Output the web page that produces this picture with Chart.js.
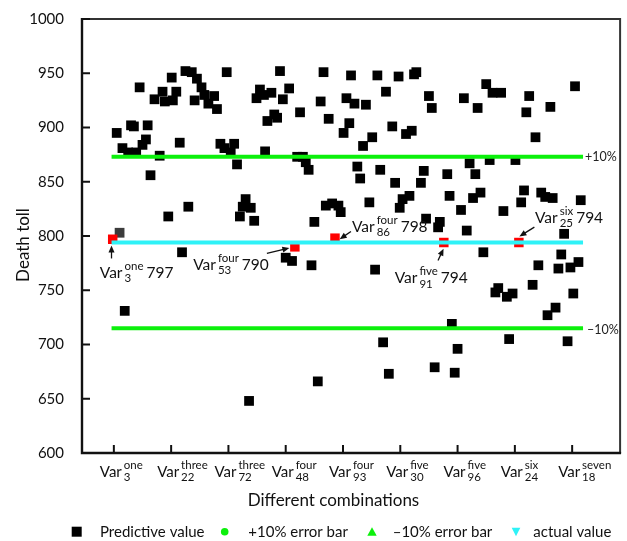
<!DOCTYPE html>
<html><head><meta charset="utf-8">
<script src="https://cdn.jsdelivr.net/npm/chart.js@4"></script>
<style>html,body{margin:0;padding:0;background:#fff;}canvas{display:block;}</style>
</head><body>
<canvas id="c" width="627" height="541"></canvas>
<script>
// ---------- DATA ----------
const tickValues = [0, 10, 20, 30, 40, 50, 60, 70, 80];
const tickBase = 'Var';
const tickSubs = ['3', '22', '72', '48', '93', '30', '96', '24', '18'];
const tickSups = ['one', 'three', 'three', 'four', 'four', 'five', 'five', 'six', 'seven'];

const predX = [10.1,12.5,13.6,14.5,19.7,4.5,8.5,10.9,7.1,8.9,10.3,14.1,15.3,15.8,17.5,16.5,18.0,25.5,24.9,26.2,26.8,3.0,3.5,5.9,0.5,5.6,5.0,11.5,1.5,2.5,3.9,8.0,18.6,19.3,21.0,20.4,26.4,21.5,6.4,13.0,9.5,23.0,22.5,23.9,22.0,24.5,11.9,
 29.0,36.6,41.4,46.0,49.7,52.8,52.4,30.6,27.5,29.5,36.1,40.6,42.0,44.0,47.5,55.0,55.5,32.5,28.0,28.5,37.5,41.1,40.1,45.1,43.5,48.6,52.0,51.0,32.0,33.0,33.5,34.0,42.5,43.0,46.5,49.1,54.1,53.6,58.2,51.6,50.4,49.9,44.6,37.0,38.1,39.2,39.6,35.0,54.5,56.9,56.6,58.6,
 30.0,31.1,34.5,45.6,47.0,56.0,48.0,35.6,
 65.0,66.1,67.6,61.1,63.5,72.5,72.0,76.2,80.5,73.6,62.1,65.6,70.1,63.1,62.7,64.0,60.6,68.0,71.6,71.1,74.6,75.3,76.6,81.5,61.6,78.6,64.5,78.1,
 74.1,77.6,79.7,81.1,73.1,67.1,66.6,68.6,69.6,80.2,77.1,75.7,59.0,69.0,79.2,60.0,59.5,
 1.9,23.6];
const predY = [946,952,951,945,951,937,933,933,926,924,925,925,937,930,929,922,917,935,927,930,906,902,901,902,895,889,884,886,881,877,877,874,885,881,885,877,878,866,856,827,818,834,827,826,818,814,785,
 952,951,948,948,947,951,949,936,932,926,924,927,922,921,933,929,918,914,912,909,908,904,895,891,883,901,897,894,873,873,868,861,864,853,861,849,860,849,857,837,834,826,831,828,830,828,822,813,816,813,808,837,
 780,777,773,769,702,679,673,666,
 940,932,932,927,918,929,914,919,938,891,867,870,870,857,835,840,824,823,842,831,840,836,835,833,805,802,785,783,
 773,770,771,776,755,752,748,744,747,747,734,727,719,705,703,696,674,
 731,648];
const shadedX = [1.0];
const shadedY = [803];

const hiX = [-0.2, 31.6, 38.6, 57.6, 70.7];
const hiY = [797, 790, 798, 794, 794];
const hiSubs = ['3', '53', '86', '91', '25'];
const hiSups = ['one', 'four', 'four', 'five', 'six'];

const actualValue = 794;
const plusTen = 873;
const minusTen = 715;
const lineX = [-0.4, 81.9];

const legendLabels = ['Predictive value', '+10% error bar', '\u201310% error bar', 'actual value'];
const plusLabel = '+10%';
const minusLabel = '\u201310%';
const xTitle = 'Different combinations';
const yTitle = 'Death toll';

// ---------- STYLE / LAYOUT ----------
const F = 'Lato, "Open Sans", sans-serif';
const GREEN = '#0cf00c';
const CYAN = '#2ef2f7';
const TXT = '#111';
// annotation offsets relative to highlighted point pixel: arrow tail, arrow head, label left/baseline
const annLayout = [
  {tx:-1.2, ty:19.2, hx:-1.2, hy:6.2, lx:-12.9, ly:38.7},
  {tx:-28, ty:6.6, hx:-5.5, hy:1.1, lx:-101.7, ly:23.1},
  {tx:16, ty:-6.7, hx:4.7, hy:1.0, lx:17, ly:-6.2},
  {tx:-5.8, ty:17.9, hx:-0.3, hy:6.2, lx:-49.1, ly:40.9},
  {tx:15.5, ty:-15.4, hx:0.5, hy:-6.1, lx:16.1, ly:-19.6}
];

function rich(ctx, x, y, base, sub, sup, tail, bs, ss) {
  ctx.textAlign = 'left'; ctx.textBaseline = 'alphabetic';
  ctx.font = bs + 'px ' + F;
  ctx.fillText(base, x, y);
  const cx = x + ctx.measureText(base).width + 2;
  ctx.font = ss + 'px ' + F;
  ctx.fillText(sup, cx, y - 8);
  ctx.fillText(sub, cx, y + 4.5);
  const w = Math.max(ctx.measureText(sup).width, ctx.measureText(sub).width);
  if (tail) { ctx.font = bs + 'px ' + F; ctx.fillText(tail, cx + w + 3, y); }
}
function arrow(ctx, x1, y1, x2, y2) {
  const a = Math.atan2(y2 - y1, x2 - x1), L = 7, W = 3;
  const c = Math.cos(a), s = Math.sin(a);
  ctx.beginPath(); ctx.moveTo(x1, y1); ctx.lineTo(x2 - L * c * 0.7, y2 - L * s * 0.7);
  ctx.lineWidth = 1.3; ctx.strokeStyle = '#111'; ctx.stroke();
  ctx.beginPath(); ctx.moveTo(x2, y2);
  ctx.lineTo(x2 - L * c + W * s, y2 - L * s - W * c);
  ctx.lineTo(x2 - L * c - W * s, y2 - L * s + W * c);
  ctx.closePath(); ctx.fillStyle = '#111'; ctx.fill();
}

const decor = {
  id: 'decor',
  afterDraw(chart) {
    const ctx = chart.ctx, a = chart.chartArea;
    const xs = chart.scales.x, ys = chart.scales.y;
    ctx.save();
    // frame
    ctx.strokeStyle = '#333'; ctx.lineWidth = 2;
    ctx.beginPath(); ctx.moveTo(a.left, a.top); ctx.lineTo(a.right, a.top); ctx.lineTo(a.right, a.bottom); ctx.stroke();
    ctx.strokeStyle = '#111'; ctx.lineWidth = 2.4;
    ctx.beginPath(); ctx.moveTo(a.left, a.top - 1); ctx.lineTo(a.left, a.bottom); ctx.lineTo(a.right + 1, a.bottom); ctx.stroke();
    // inward tick marks
    ctx.lineWidth = 2; ctx.strokeStyle = '#111';
    ys.ticks.forEach(t => { const p = ys.getPixelForValue(t.value); ctx.beginPath(); ctx.moveTo(a.left, p); ctx.lineTo(a.left + 8, p); ctx.stroke(); });
    tickValues.forEach(v => { const p = xs.getPixelForValue(v); ctx.beginPath(); ctx.moveTo(p, a.bottom); ctx.lineTo(p, a.bottom - 8); ctx.stroke(); });
    // x tick labels
    ctx.fillStyle = TXT;
    tickValues.forEach((v, i) => { const p = xs.getPixelForValue(v); rich(ctx, p - 14, 476.7, tickBase, tickSubs[i], tickSups[i], null, 15, 11.5); });
    // axis titles
    ctx.font = '17px ' + F; ctx.textAlign = 'center'; ctx.textBaseline = 'alphabetic';
    ctx.fillText(xTitle, 333.5, 506);
    ctx.save(); ctx.translate(28.5, 245); ctx.rotate(-Math.PI / 2); ctx.fillText(yTitle, 0, 0); ctx.restore();
    // +-10% labels
    ctx.font = '12.5px ' + F; ctx.textAlign = 'left'; ctx.textBaseline = 'middle'; ctx.fillStyle = '#222';
    const xe = xs.getPixelForValue(lineX[1]);
    ctx.fillText(plusLabel, xe + 2, ys.getPixelForValue(plusTen) + 0.5);
    ctx.fillText(minusLabel, xe + 4, ys.getPixelForValue(minusTen) + 2);
    // annotations
    hiX.forEach((x, i) => {
      const px = xs.getPixelForValue(x), py = ys.getPixelForValue(hiY[i]), L = annLayout[i];
      arrow(ctx, px + L.tx, py + L.ty, px + L.hx, py + L.hy);
      ctx.fillStyle = TXT;
      rich(ctx, px + L.lx, py + L.ly, tickBase, hiSubs[i], hiSups[i], String(hiY[i]), 15.5, 11.5);
    });
    // legend
    const ly = 531.7;
    ctx.fillStyle = '#000'; ctx.fillRect(71.7, ly - 5, 10, 10);
    ctx.fillStyle = GREEN; ctx.beginPath(); ctx.arc(224.7, ly, 3.8, 0, Math.PI * 2); ctx.fill();
    ctx.beginPath(); ctx.moveTo(372, ly - 4.5); ctx.lineTo(376.7, ly + 4); ctx.lineTo(367.3, ly + 4); ctx.closePath(); ctx.fill();
    ctx.fillStyle = CYAN; ctx.beginPath(); ctx.moveTo(516, ly + 4.5); ctx.lineTo(520.3, ly - 4); ctx.lineTo(511.7, ly - 4); ctx.closePath(); ctx.fill();
    ctx.fillStyle = TXT; ctx.font = '15px ' + F; ctx.textAlign = 'left'; ctx.textBaseline = 'alphabetic';
    [100, 248.3, 392.7, 533.3].forEach((x, i) => ctx.fillText(legendLabels[i], x, 536.5));
    ctx.restore();
  }
};

const pts = (xs, ys) => xs.map((x, i) => ({x, y: ys[i]}));
const flat = v => lineX.map(x => ({x, y: v}));
new Chart(document.getElementById('c'), {
  type: 'scatter',
  data: { datasets: [
    {label: legendLabels[1], data: flat(plusTen), showLine: true, borderColor: GREEN, borderWidth: 4, pointRadius: 0, order: 1},
    {label: legendLabels[2], data: flat(minusTen), showLine: true, borderColor: GREEN, borderWidth: 4, pointRadius: 0, order: 1},
    {label: legendLabels[3], data: flat(actualValue), showLine: true, borderColor: CYAN, borderWidth: 4, pointRadius: 0, order: 1},
    {label: 'highlight', data: pts(hiX, hiY), pointStyle: 'rect', pointRadius: 6.7, backgroundColor: '#ff0000', borderWidth: 0, order: 2},
    {label: legendLabels[0], data: pts(predX, predY), pointStyle: 'rect', pointRadius: 6.9, backgroundColor: '#000', borderWidth: 0, order: 3},
    {label: 'shaded', data: pts(shadedX, shadedY), pointStyle: 'rect', pointRadius: 6.9, backgroundColor: '#3c3c3c', borderWidth: 0, order: 3}
  ]},
  options: {
    responsive: false, animation: false, devicePixelRatio: 1,
    layout: {padding: {left: 0, right: 4, top: 18, bottom: 0}},
    plugins: {legend: {display: false}, tooltip: {enabled: false}},
    scales: {
      x: {type: 'linear', min: -5.56, max: 88.37,
          afterBuildTicks: s => { s.ticks = tickValues.map(v => ({value: v})); },
          ticks: {display: false}, grid: {display: false}, border: {display: false},
          afterFit: s => { s.height = 88; }},
      y: {min: 600, max: 1000,
          ticks: {stepSize: 50, padding: 10, color: TXT, font: {family: F, size: 15}, callback: v => String(v)},
          grid: {display: false}, border: {display: false},
          afterFit: s => { s.width = 82; }}
    }
  },
  plugins: [decor]
});
</script>
</body></html>
